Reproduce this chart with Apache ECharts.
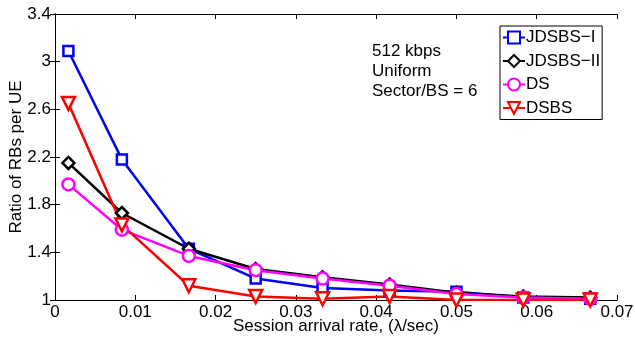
<!DOCTYPE html>
<html>
<head>
<meta charset="utf-8">
<script src="https://cdn.jsdelivr.net/npm/echarts@6/dist/echarts.min.js"></script>
<style>
  html, body { margin: 0; padding: 0; background: #fff; }
  #chart { width: 635px; height: 340px; }
</style>
</head>
<body>
<div id="chart"></div>
<script>
// session arrival rate (lambda/sec)
const rate = [0.00167, 0.00833, 0.01667, 0.025, 0.03333, 0.04167, 0.05, 0.05833, 0.06667];
const jdsbs1 = [3.09, 2.18, 1.43, 1.18, 1.10, 1.08, 1.07, 1.02, 1.01];
const jdsbs2 = [2.15, 1.73, 1.43, 1.26, 1.19, 1.13, 1.06, 1.03, 1.02];
const ds = [1.97, 1.59, 1.37, 1.25, 1.18, 1.12, 1.05, 1.02, 1.01];
const dsbs = [2.65, 1.63, 1.12, 1.03, 1.01, 1.03, 1.00, 1.00, 1.00];
const yTicks = [1, 1.4, 1.8, 2.2, 2.6, 3, 3.4];
const notes = ['512 kbps', 'Uniform', 'Sector/BS = 6'];

const font = 'Liberation Sans, Arial, Helvetica, sans-serif';

function pairs(ys) {
    return rate.map((x, i) => [x, ys[i]]);
}

function mkSeries(name, ys, color, symbol, size, rotate) {
    return {
        name: name,
        type: 'line',
        data: pairs(ys),
        symbol: symbol,
        symbolSize: size,
        symbolRotate: rotate || 0,
        showAllSymbol: true,
        lineStyle: { color: color, width: 2.5 },
        itemStyle: { color: '#fff', borderColor: color, borderWidth: 2.5 },
        emphasis: { disabled: true },
        animation: false
    };
}

const chart = echarts.init(document.getElementById('chart'), null, { renderer: 'canvas' });

const option = {
    animation: false,
    grid: { left: 55, right: 18, top: 14, bottom: 40, containLabel: false, outerBoundsMode: 'none' },
    legend: {
        left: 500,
        top: 26,
        width: 105,
        orient: 'vertical',
        backgroundColor: '#fff',
        borderColor: '#000',
        borderWidth: 1,
        borderRadius: 0,
        padding: [3, 2, 3, 2],
        itemGap: 6.5,
        itemWidth: 22,
        itemHeight: 15,
        textStyle: { fontFamily: font, fontSize: 17, color: '#000', padding: [0, 0, 0, -4] },
        data: ['JDSBS\u2212I', 'JDSBS\u2212II', 'DS', 'DSBS']
    },
    graphic: notes.map((t, i) => ({
        type: 'text',
        left: 372,
        top: 43 + i * 20,
        style: { text: t, font: '17px ' + font, fill: '#000' }
    })),
    xAxis: [{
        type: 'value',
        min: 0,
        max: 0.07,
        interval: 0.01,
        name: 'Session arrival rate, (\u03bb/sec)',
        nameLocation: 'middle',
        nameGap: 18,
        nameMoveOverlap: false,
        nameTextStyle: { fontFamily: font, fontSize: 17, color: '#000' },
        axisLine: { show: true, lineStyle: { color: '#000', width: 1 } },
        axisTick: { show: true, inside: true, length: 5, lineStyle: { color: '#000' } },
        axisLabel: { fontFamily: font, fontSize: 17, color: '#000', margin: 4 },
        splitLine: { show: false }
    }, {
        type: 'value',
        position: 'top',
        min: 0,
        max: 0.07,
        interval: 0.01,
        axisLine: { show: true, lineStyle: { color: '#000', width: 1 } },
        axisTick: { show: true, inside: true, length: 5, lineStyle: { color: '#000' } },
        axisLabel: { show: false },
        splitLine: { show: false }
    }],
    yAxis: [{
        type: 'value',
        min: 1,
        max: 3.4,
        name: 'Ratio of RBs per UE',
        nameLocation: 'middle',
        nameGap: 30,
        nameMoveOverlap: false,
        nameTextStyle: { fontFamily: font, fontSize: 17, color: '#000' },
        axisLine: { show: true, lineStyle: { color: '#000', width: 1 } },
        axisTick: { show: true, inside: true, length: 5, customValues: yTicks, lineStyle: { color: '#000' } },
        axisLabel: { fontFamily: font, fontSize: 17, color: '#000', margin: 4, customValues: yTicks },
        splitLine: { show: false }
    }, {
        type: 'value',
        position: 'right',
        min: 1,
        max: 3.4,
        axisLine: { show: true, lineStyle: { color: '#000', width: 1 } },
        axisTick: { show: true, inside: true, length: 5, customValues: yTicks, lineStyle: { color: '#000' } },
        axisLabel: { show: false },
        splitLine: { show: false }
    }],
    series: [
        mkSeries('JDSBS\u2212I', jdsbs1, '#0000ff', 'rect', 10),
        mkSeries('JDSBS\u2212II', jdsbs2, '#000000', 'diamond', 12),
        mkSeries('DS', ds, '#ff00ff', 'circle', 12),
        mkSeries('DSBS', dsbs, '#ff0000', 'triangle', 13, 180)
    ]
};

chart.setOption(option);
</script>
</body>
</html>
